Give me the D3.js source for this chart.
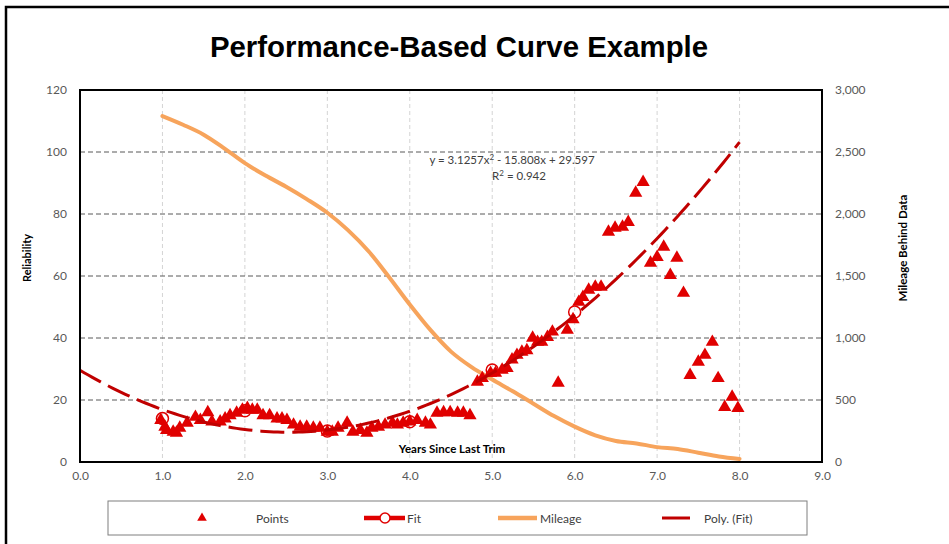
<!DOCTYPE html>
<html>
<head>
<meta charset="utf-8">
<script src="https://cdn.jsdelivr.net/npm/d3@7"></script>
<style>
  html, body { margin: 0; padding: 0; background: #fff; }
  svg { display: block; }
</style>
</head>
<body>
<script>
// Observed reliability points (years since last trim, reliability)
const pointYears = [0.98, 1.03, 1.05, 1.13, 1.17, 1.21, 1.30, 1.40, 1.46, 1.55, 1.60, 1.70, 1.76, 1.82, 1.90, 1.97,
  2.03, 2.09, 2.15, 2.22, 2.30, 2.39, 2.45, 2.51, 2.59, 2.67, 2.75, 2.83, 2.91, 3.00, 3.06, 3.13, 3.24, 3.31,
  3.40, 3.48, 3.54, 3.62, 3.70, 3.79, 3.85, 3.92, 4.00, 4.09, 4.19, 4.25, 4.33, 4.41, 4.49, 4.58, 4.65, 4.73,
  4.82, 4.88, 4.98, 5.04, 5.12, 5.18, 5.24, 5.30, 5.36, 5.42, 5.49, 5.55, 5.60, 5.67, 5.73, 5.80, 5.91, 5.98,
  6.05, 6.10, 6.17, 6.25, 6.32, 6.41, 6.49, 6.58, 6.65, 6.74, 6.83, 6.92, 7.00, 7.08, 7.16, 7.24, 7.32, 7.40,
  7.50, 7.58, 7.67, 7.74, 7.82, 7.91, 7.98];
const pointValues = [13.5, 11.3, 10.3, 9.7, 9.4, 11, 12.6, 14.5, 13.5, 16, 13, 13, 14, 15, 15.8, 16.8,
  17.4, 16.8, 16.8, 15, 15, 14, 14, 13.5, 12, 11.3, 11.3, 11, 11, 9.7, 9.7, 11, 12.6, 9.7,
  10.3, 9.4, 11, 11.3, 12, 12.6, 12, 12.6, 13, 13.5, 12.6, 12, 15.8, 16, 16, 15.8, 15.8, 15,
  25.8, 27, 28.7, 28.7, 29.7, 30.3, 33, 34.5, 35.5, 36, 40, 38.7, 38.7, 40.3, 42, 25.5, 42.6, 46,
  51.6, 53.2, 55.5, 56.5, 56.5, 74.2, 75.5, 75.8, 77.4, 86.8, 90.3, 64.2, 66.1, 69.4, 60.3, 65.8, 54.5, 28,
  32.3, 34.5, 38.7, 27, 17.7, 21, 17.4];

// Fitted reliability by whole year
const fitYears = [1, 2, 3, 4, 5, 6];
const fitValues = [14, 16.5, 10, 13, 29.7, 48.4];

// Mileage behind the data (secondary axis)
const mileageYears = [1.0, 1.25, 1.5, 1.75, 2.0, 2.25, 2.5, 2.75, 3.0, 3.25, 3.5, 3.75, 4.0, 4.25, 4.5,
  4.75, 5.0, 5.25, 5.5, 5.75, 6.0, 6.25, 6.5, 6.75, 7.0, 7.25, 7.5, 7.75, 8.0];
const mileageValues = [2790, 2720, 2640, 2530, 2410, 2310, 2220, 2120, 2010, 1870, 1700, 1490, 1270, 1065, 890,
  765, 665, 570, 470, 370, 285, 215, 170, 150, 120, 105, 75, 45, 25];

// Second-order polynomial trendline of the fit: a*x^2 + b*x + c
const polyCoef = [3.1257, -15.808, 29.597];
const polyRange = [0, 8];

// Axis ticks
const xTicks = [0, 1, 2, 3, 4, 5, 6, 7, 8, 9];
const yTicks = [0, 20, 40, 60, 80, 100, 120];
const y2Ticks = [0, 500, 1000, 1500, 2000, 2500, 3000];

const W = 949, H = 544;
const plot = { left: 80, right: 822, top: 90, bottom: 462 };
const numFont = "Lato, 'Open Sans', sans-serif";

const svg = d3.select("body").append("svg").attr("width", W).attr("height", H);

// outer frame
svg.append("rect").attr("x", 6).attr("y", 7).attr("width", 1000).attr("height", 600)
  .attr("fill", "#fff").attr("stroke", "#000").attr("stroke-width", 2.5);

// title
svg.append("text").attr("x", 459).attr("y", 57).attr("text-anchor", "middle")
  .attr("font-family", "'Liberation Sans', Arial, sans-serif").attr("font-weight", "bold")
  .attr("font-size", 29.4).attr("fill", "#000").text("Performance-Based Curve Example");

const x = d3.scaleLinear().domain([0, 9]).range([plot.left, plot.right]);
const y = d3.scaleLinear().domain([0, 120]).range([plot.bottom, plot.top]);
const y2 = d3.scaleLinear().domain([0, 3000]).range([plot.bottom, plot.top]);

// gridlines
const g = svg.append("g");
g.selectAll(".vgrid").data(xTicks.filter(d => d > 0 && d < 9)).join("line")
  .attr("x1", d => x(d)).attr("x2", d => x(d)).attr("y1", plot.top).attr("y2", plot.bottom)
  .attr("stroke", "#d4d4d4").attr("stroke-width", 1).attr("stroke-dasharray", "4,3");
g.selectAll(".hgrid").data(yTicks.filter(d => d > 0 && d < 120)).join("line")
  .attr("x1", plot.left).attr("x2", plot.right).attr("y1", d => y(d)).attr("y2", d => y(d))
  .attr("stroke", "#595959").attr("stroke-width", 1).attr("stroke-dasharray", "5,3");

// axes
function styleAxis(sel) {
  sel.select(".domain").remove();
  sel.selectAll("text").attr("font-family", numFont).attr("font-size", 12).attr("fill", "#595959");
}
svg.append("g").attr("transform", `translate(${plot.left},0)`)
  .call(d3.axisLeft(y).tickValues(yTicks).tickSize(0).tickPadding(13)).call(styleAxis);
svg.append("g").attr("transform", `translate(${plot.right},0)`)
  .call(d3.axisRight(y2).tickValues(y2Ticks).tickSize(0).tickPadding(13).tickFormat(d3.format(",")))
  .call(styleAxis);
svg.append("g").attr("transform", `translate(0,${plot.bottom})`)
  .call(d3.axisBottom(x).tickValues(xTicks).tickSize(0).tickPadding(9).tickFormat(d3.format(".1f")))
  .call(styleAxis);

// axis titles
svg.append("text").attr("transform", "translate(31,258) rotate(-90)").attr("text-anchor", "middle")
  .attr("font-family", numFont).attr("font-weight", "bold").attr("font-size", 11)
  .attr("fill", "#000").text("Reliability");
svg.append("text").attr("transform", "translate(907,248) rotate(-90)").attr("text-anchor", "middle")
  .attr("font-family", numFont).attr("font-weight", "bold").attr("font-size", 11.5)
  .attr("fill", "#000").text("Mileage Behind Data");
svg.append("text").attr("x", 452).attr("y", 453).attr("text-anchor", "middle")
  .attr("font-family", numFont).attr("font-weight", "bold").attr("font-size", 11.5)
  .attr("fill", "#000").text("Years Since Last Trim");

const red = "#e00000", darkRed = "#c00000", orange = "#f7a45c";

// mileage line
const mileage = mileageYears.map((d, i) => [d, mileageValues[i]]);
svg.append("path").datum(mileage)
  .attr("d", d3.line().x(d => x(d[0])).y(d => y2(d[1])).curve(d3.curveMonotoneX))
  .attr("fill", "none").attr("stroke", orange).attr("stroke-width", 4).attr("stroke-linecap", "round");

// reliability points
const pts = pointYears.map((d, i) => [d, pointValues[i]]);
const tri = d3.symbol().type(d3.symbolTriangle).size(76);
svg.append("g").selectAll("path").data(pts).join("path")
  .attr("d", tri).attr("transform", d => `translate(${x(d[0])},${y(d[1])})`)
  .attr("fill", red);

// fit markers
const fit = fitYears.map((d, i) => [d, fitValues[i]]);
svg.append("g").selectAll("circle").data(fit).join("circle")
  .attr("cx", d => x(d[0])).attr("cy", d => y(d[1])).attr("r", 6)
  .attr("fill", "none").attr("stroke", red).attr("stroke-width", 1.5);

// polynomial trendline
const poly = v => polyCoef[0] * v * v + polyCoef[1] * v + polyCoef[2];
const polyPts = d3.range(polyRange[0], polyRange[1] + 1e-9, 0.05).map(v => [v, poly(v)]);
svg.append("path").datum(polyPts)
  .attr("d", d3.line().x(d => x(d[0])).y(d => y(d[1])))
  .attr("fill", "none").attr("stroke", darkRed).attr("stroke-width", 3)
  .attr("stroke-dasharray", "24,8");

// trendline equation
svg.append("text").attr("x", 512).attr("y", 164).attr("text-anchor", "middle")
  .attr("font-family", numFont).attr("font-size", 11.5).attr("fill", "#404040")
  .html("y = 3.1257x<tspan dy='-4' font-size='8'>2</tspan><tspan dy='4'> - 15.808x + 29.597</tspan>");
svg.append("text").attr("x", 519).attr("y", 180).attr("text-anchor", "middle")
  .attr("font-family", numFont).attr("font-size", 11.5).attr("fill", "#404040")
  .html("R<tspan dy='-4' font-size='8'>2</tspan><tspan dy='4'> = 0.942</tspan>");

// plot frame
svg.append("rect").attr("x", plot.left).attr("y", plot.top)
  .attr("width", plot.right - plot.left).attr("height", plot.bottom - plot.top)
  .attr("fill", "none").attr("stroke", "#000").attr("stroke-width", 2);

// legend
const lg = svg.append("g");
lg.append("rect").attr("x", 108).attr("y", 501).attr("width", 699).attr("height", 34)
  .attr("fill", "#fff").attr("stroke", "#7f7f7f").attr("stroke-width", 1);
const ly = 518;
const legendText = (tx, label) => lg.append("text").attr("x", tx).attr("y", ly + 4.5)
  .attr("font-family", numFont).attr("font-size", 12).attr("fill", "#404040").text(label);
lg.append("path").attr("d", d3.symbol().type(d3.symbolTriangle).size(40))
  .attr("transform", `translate(202,${ly})`).attr("fill", red);
legendText(256, "Points");
lg.append("line").attr("x1", 364).attr("x2", 405).attr("y1", ly).attr("y2", ly)
  .attr("stroke", red).attr("stroke-width", 4.5);
lg.append("circle").attr("cx", 385).attr("cy", ly).attr("r", 5)
  .attr("fill", "#fff").attr("stroke", red).attr("stroke-width", 1.5);
legendText(407, "Fit");
lg.append("line").attr("x1", 498).attr("x2", 537).attr("y1", ly).attr("y2", ly)
  .attr("stroke", orange).attr("stroke-width", 4.5);
legendText(540, "Mileage");
lg.append("line").attr("x1", 662).attr("x2", 690).attr("y1", ly).attr("y2", ly)
  .attr("stroke", darkRed).attr("stroke-width", 3);
legendText(704, "Poly. (Fit)");
</script>
</body>
</html>
